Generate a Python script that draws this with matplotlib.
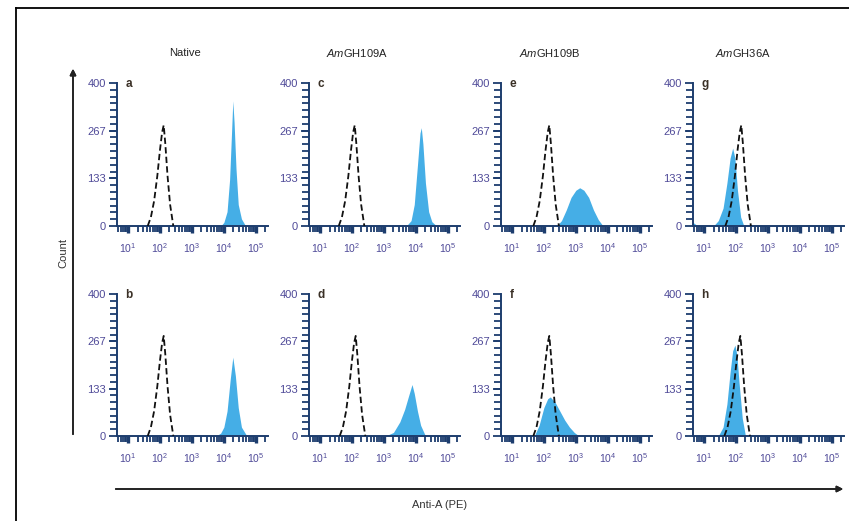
import numpy as np
import matplotlib.pyplot as plt
from matplotlib.lines import Line2D
from matplotlib.ticker import LogLocator, FixedLocator

plt.rcParams['font.family'] = ['Liberation Sans', 'DejaVu Sans']
plt.rcParams['mathtext.fontset'] = 'custom'
plt.rcParams['mathtext.rm'] = 'Liberation Sans'
plt.rcParams['mathtext.it'] = 'Liberation Sans:italic'

# column titles and panel letters (top row, bottom row)
col_titles = ['Native', r'$\mathit{Am}$GH109A', r'$\mathit{Am}$GH109B', r'$\mathit{Am}$GH36A']
top_letters = ['a', 'c', 'e', 'g']
bot_letters = ['b', 'd', 'f', 'h']
y_ticks = [0, 133, 267, 400]

# isotype control (dashed), log10 fluorescence vs count
ctrl_x = [1.62, 1.72, 1.82, 1.92, 2.0, 2.07, 2.12, 2.17, 2.24, 2.32, 2.42]
ctrl_a = [0, 25, 70, 140, 210, 262, 282, 230, 140, 60, 0]
ctrl_shift = {'a': 0.0, 'b': 0.0, 'c': -0.03, 'd': 0.0, 'e': 0.05, 'f': 0.05, 'g': 0.05, 'h': 0.02}

# stained samples (filled), log10 fluorescence vs count
a_x = [3.9, 4.0, 4.1, 4.18, 4.24, 4.28, 4.32, 4.38, 4.45, 4.55, 4.68]
a_y = [0, 10, 40, 130, 260, 350, 290, 160, 60, 20, 0]
b_x = [3.75, 3.9, 4.0, 4.1, 4.2, 4.28, 4.36, 4.45, 4.55, 4.72]
b_y = [0, 8, 25, 70, 160, 222, 170, 80, 25, 0]
c_x = [3.7, 3.85, 3.95, 4.05, 4.13, 4.17, 4.22, 4.3, 4.4, 4.5, 4.65]
c_y = [0, 15, 60, 170, 260, 275, 230, 120, 40, 12, 0]
d_x = [3.05, 3.3, 3.5, 3.65, 3.78, 3.88, 3.95, 4.05, 4.15, 4.3]
d_y = [0, 10, 40, 75, 115, 145, 120, 70, 30, 0]
e_x = [2.4, 2.55, 2.7, 2.85, 3.0, 3.12, 3.25, 3.4, 3.55, 3.7, 3.85]
e_y = [0, 15, 45, 80, 100, 107, 100, 80, 45, 18, 0]
f_x = [1.7, 1.85, 2.0, 2.12, 2.2, 2.35, 2.5, 2.65, 2.8, 2.95, 3.1]
f_y = [0, 30, 80, 105, 110, 95, 70, 45, 25, 10, 0]
g_x = [0.66, 0.72, 0.8, 1.3, 1.45, 1.6, 1.72, 1.82, 1.9, 1.97, 2.05, 2.15, 2.25]
g_y = [10, 6, 0, 0, 15, 50, 120, 190, 218, 190, 100, 25, 0]
h_x = [1.45, 1.6, 1.72, 1.82, 1.9, 1.97, 2.03, 2.1, 2.2, 2.3]
h_y = [0, 25, 90, 180, 240, 256, 230, 150, 50, 0]

samples = {'a': (a_x, a_y), 'b': (b_x, b_y), 'c': (c_x, c_y), 'd': (d_x, d_y),
           'e': (e_x, e_y), 'f': (f_x, f_y), 'g': (g_x, g_y), 'h': (h_x, h_y)}

W, H = 849, 521
spine_col = '#1d3d6e'
lab_col = '#4f4a98'
fill_col = '#45aee6'

fig = plt.figure(figsize=(W / 100, H / 100), dpi=100)

col_left = [117, 309, 501, 693]
row_top = [(83, 226), (294, 436)]


def make_panel(left, top, bottom, letter):
    ax = fig.add_axes([left / W, 1 - bottom / H, 151 / W, (bottom - top) / H])
    sx, sy = samples[letter]
    ax.fill_between(10 ** np.array(sx), sy, color=fill_col, lw=0, zorder=2)
    cx = np.array(ctrl_x) + ctrl_shift[letter]
    ax.plot(10 ** cx, ctrl_a, ls=(0, (3.5, 1.8)), color='#111111', lw=1.3, zorder=3)

    ax.set_xscale('log')
    ax.set_xlim(10 ** 0.66, 10 ** 5.38)
    ax.set_ylim(0, 400)
    ax.xaxis.set_major_locator(LogLocator(base=10, numticks=10))
    ax.xaxis.set_minor_locator(LogLocator(base=10, subs=np.arange(2, 10), numticks=10))
    ax.yaxis.set_major_locator(FixedLocator(y_ticks))
    ax.yaxis.set_minor_locator(FixedLocator(np.linspace(0, 400, 22)))

    for s in ['top', 'right']:
        ax.spines[s].set_visible(False)
    for s in ['left', 'bottom']:
        ax.spines[s].set_color(spine_col)
        ax.spines[s].set_linewidth(1.4)

    ax.tick_params(axis='x', which='major', direction='out', length=5, width=2.4,
                   color=spine_col, labelsize=7.5, labelcolor=lab_col, pad=6)
    ax.tick_params(axis='x', which='minor', direction='out', length=4, width=1.3, color=spine_col)
    ax.tick_params(axis='y', which='major', direction='out', length=6, width=1.3,
                   color=spine_col, labelsize=8, labelcolor=lab_col, pad=2)
    ax.tick_params(axis='y', which='minor', direction='out', length=5, width=1.3, color=spine_col)
    ax.set_facecolor('none')

    ax.text(0.055, 0.99, letter, transform=ax.transAxes, fontsize=8.5, fontweight='bold',
            color='#3a3026', va='center', ha='left')
    return ax


for i in range(4):
    make_panel(col_left[i], row_top[0][0], row_top[0][1], top_letters[i])
    make_panel(col_left[i], row_top[1][0], row_top[1][1], bot_letters[i])

title_x = [185, 357, 550, 743]
for i in range(4):
    fig.text(title_x[i] / W, 1 - 53 / H, col_titles[i], fontsize=8, color='#222222',
             ha='center', va='center')

# figure frame
fig.add_artist(Line2D([16 / W, 16 / W], [0, 1 - 8 / H], color='k', lw=1.3, transform=fig.transFigure))
fig.add_artist(Line2D([16 / W, 1], [1 - 8 / H, 1 - 8 / H], color='k', lw=1.3, transform=fig.transFigure))

# axis arrows
fig.add_artist(plt.annotate('', xy=(73 / W, 1 - 66 / H), xytext=(73 / W, 1 - 437 / H),
                            xycoords='figure fraction', textcoords='figure fraction',
                            arrowprops=dict(arrowstyle='-|>', color='#222222', lw=1.2, mutation_scale=9)))
fig.add_artist(plt.annotate('', xy=(846 / W, 1 - 489 / H), xytext=(113 / W, 1 - 489 / H),
                            xycoords='figure fraction', textcoords='figure fraction',
                            arrowprops=dict(arrowstyle='-|>', color='#222222', lw=1.2, mutation_scale=9)))
fig.text(63 / W, 1 - 253 / H, 'Count', rotation=90, fontsize=8, color='#333333', ha='center', va='center')
fig.text(440 / W, 1 - 505 / H, 'Anti-A (PE)', fontsize=8, color='#333333', ha='center', va='center')

fig.savefig('out.png', dpi=100)
